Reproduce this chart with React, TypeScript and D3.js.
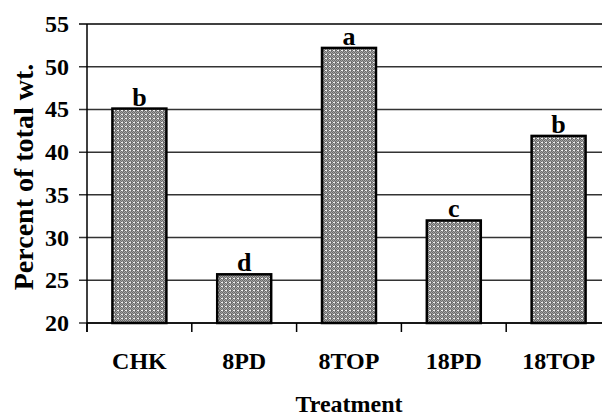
import React from "react";
import * as d3 from "d3";

const categories = ["CHK", "8PD", "8TOP", "18PD", "18TOP"];
const values = [45.1, 25.7, 52.2, 32.0, 41.9];
const letters = ["b", "d", "a", "c", "b"];
const yTicks = [20, 25, 30, 35, 40, 45, 50, 55];

const W = 602;
const H = 418;
const left = 87;
const right = 611;
const top = 24;
const bottom = 323;
const FONT = "'Liberation Serif', 'Times New Roman', serif";

export default function App() {
  const x = d3.scaleBand<string>().domain(categories).range([left, right]).paddingInner(0.485).paddingOuter(0.2425);
  const band = d3.scaleBand<string>().domain(categories).range([left, right]).padding(0);
  const y = d3.scaleLinear().domain([20, 55]).range([bottom, top]);
  const tickXs = d3.range(categories.length + 1).map((i) => left + i * band.step());

  return (
    <svg width={W} height={H} style={{ position: "absolute", left: 0, top: 0, background: "#fff" }}>
      <defs>
        <pattern id="dots" width={4} height={4} patternUnits="userSpaceOnUse">
          <rect width={4} height={4} fill="#6c6c6c" />
          <rect x={1} y={0} width={1} height={1} fill="#a6a6a6" />
          <rect x={3} y={0} width={1} height={1} fill="#a6a6a6" />
          <rect x={0} y={1} width={1} height={1} fill="#a6a6a6" />
          <rect x={2} y={1} width={1} height={1} fill="#a6a6a6" />
          <rect x={1} y={2} width={2} height={1} fill="#f0f0f0" />
          <rect x={0} y={3} width={1} height={1} fill="#a6a6a6" />
          <rect x={2} y={3} width={1} height={1} fill="#a6a6a6" />
        </pattern>
      </defs>
      {yTicks.map((t) => (
        <g key={t}>
          <line x1={left - 8} x2={W} y1={y(t)} y2={y(t)} stroke={t === 55 ? "#000" : "#333"} strokeWidth={1.5} />
          <text
            x={69}
            y={y(t)}
            textAnchor="end"
            dominantBaseline="central"
            fontFamily={FONT}
            fontWeight="bold"
            fontSize={24}
          >
            {t}
          </text>
        </g>
      ))}
      <line x1={left} x2={left} y1={top} y2={bottom + 9} stroke="#000" strokeWidth={1.5} />
      <line x1={left} x2={W} y1={bottom} y2={bottom} stroke="#000" strokeWidth={1.5} />
      {tickXs.map((tx, i) => (
        <line key={i} x1={tx} x2={tx} y1={bottom} y2={bottom + 9} stroke="#000" strokeWidth={1.5} />
      ))}
      {categories.map((c, i) => (
        <g key={c}>
          <rect
            x={x(c)!}
            y={y(values[i])}
            width={x.bandwidth()}
            height={bottom - y(values[i])}
            fill="url(#dots)"
            stroke="#000"
            strokeWidth={2.5}
          />
          <text
            x={x(c)! + x.bandwidth() / 2}
            y={y(values[i]) - 3}
            textAnchor="middle"
            fontFamily={FONT}
            fontWeight="bold"
            fontSize={26}
          >
            {letters[i]}
          </text>
          <text
            x={band(c)! + band.bandwidth() / 2}
            y={369}
            textAnchor="middle"
            fontFamily={FONT}
            fontWeight="bold"
            fontSize={24}
          >
            {c}
          </text>
        </g>
      ))}
      <text x={349} y={412} textAnchor="middle" fontFamily={FONT} fontWeight="bold" fontSize={24}>
        Treatment
      </text>
      <text
        transform={`translate(33,177) rotate(-90)`}
        textAnchor="middle"
        fontFamily={FONT}
        fontWeight="bold"
        fontSize={28}
      >
        Percent of total wt.
      </text>
    </svg>
  );
}
